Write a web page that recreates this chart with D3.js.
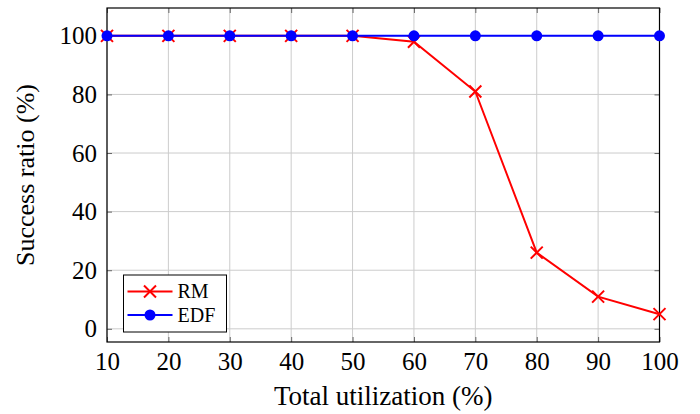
<!DOCTYPE html>
<html>
<head>
<meta charset="utf-8">
<script src="https://cdn.jsdelivr.net/npm/d3@7"></script>
</head>
<body style="margin:0;background:#fff">
<svg id="chart" width="700" height="414"></svg>
<script>
// data
utilization = [10, 20, 30, 40, 50, 60, 70, 80, 90, 100];
rmValues = [100, 100, 100, 100, 100, 98, 81, 26, 11, 5];
edfValues = [100, 100, 100, 100, 100, 100, 100, 100, 100, 100];
yTicks = [0, 20, 40, 60, 80, 100];

let serif = "'Liberation Serif'";

let margin = {left: 107, right: 40.5, top: 8, bottom: 72};
let width = 700 - margin.left - margin.right;
let height = 414 - margin.top - margin.bottom;

let svg = d3.select("#chart");
let g = svg.append("g").attr("transform", "translate(" + margin.left + "," + margin.top + ")");

let x = d3.scaleLinear().domain([10, 100]).range([0, width]);
let y = d3.scaleLinear().domain([-4.5, 109.5]).range([height, 0]);

// grid
g.append("g").selectAll("line")
    .data(utilization).enter()
    .append("line")
    .attr("x1", d => x(d)).attr("x2", d => x(d))
    .attr("y1", 0).attr("y2", height)
    .style("stroke", "#cccccc").style("stroke-width", 1);
g.append("g").selectAll("line")
    .data(yTicks).enter()
    .append("line")
    .attr("x1", 0).attr("x2", width)
    .attr("y1", d => y(d)).attr("y2", d => y(d))
    .style("stroke", "#cccccc").style("stroke-width", 1);

// axes, ticks inside on all four sides
function styleAxis(sel) {
    sel.attr("font-family", null).attr("font-size", null);
    sel.select(".domain").remove();
    sel.selectAll(".tick line").style("stroke", "#666").style("stroke-width", 1);
    sel.selectAll(".tick text")
        .style("font-family", serif)
        .attr("font-size", 25)
        .style("fill", "#000");
}
g.append("g").attr("transform", "translate(0," + height + ")")
    .call(d3.axisBottom(x).tickValues(utilization).tickSizeInner(-5).tickSizeOuter(0).tickPadding(10))
    .call(styleAxis);
g.append("g").call(d3.axisTop(x).tickValues(utilization).tickSizeInner(-5).tickSizeOuter(0).tickFormat(""))
    .call(styleAxis);
g.append("g")
    .call(d3.axisLeft(y).tickValues(yTicks).tickSizeInner(-5).tickSizeOuter(0).tickPadding(10))
    .call(styleAxis);
g.append("g").attr("transform", "translate(" + width + ",0)")
    .call(d3.axisRight(y).tickValues(yTicks).tickSizeInner(-5).tickSizeOuter(0).tickFormat(""))
    .call(styleAxis);

g.append("rect")
    .attr("width", width).attr("height", height)
    .style("fill", "none").style("stroke", "#000").style("stroke-width", 1.2);

// series
let line = d3.line().x(d => x(d[0])).y(d => y(d[1]));
let rmData = d3.zip(utilization, rmValues);
let edfData = d3.zip(utilization, edfValues);

let crossPath = "M-6,-6L6,6M-6,6L6,-6";

g.append("path").datum(rmData).attr("d", line)
    .style("fill", "none").style("stroke", "#ff0000").style("stroke-width", 2);
g.append("g").selectAll("path")
    .data(rmData).enter()
    .append("path")
    .attr("d", crossPath)
    .attr("transform", d => "translate(" + x(d[0]) + "," + y(d[1]) + ")")
    .style("stroke", "#ff0000").style("stroke-width", 2).style("fill", "none");

g.append("path").datum(edfData).attr("d", line)
    .style("fill", "none").style("stroke", "#0000ff").style("stroke-width", 2);
g.append("g").selectAll("circle")
    .data(edfData).enter()
    .append("circle")
    .attr("cx", d => x(d[0])).attr("cy", d => y(d[1]))
    .attr("r", 5.5)
    .style("fill", "#0000ff");

// axis labels
svg.append("text")
    .attr("x", margin.left + width / 2).attr("y", 405)
    .attr("text-anchor", "middle")
    .style("font-family", serif).attr("font-size", 27)
    .text("Total utilization (%)");
svg.append("text")
    .attr("transform", "translate(34," + (margin.top + height / 2) + ") rotate(-90)")
    .attr("text-anchor", "middle")
    .style("font-family", serif).attr("font-size", 26)
    .text("Success ratio (%)");

// legend
let legend = svg.append("g").attr("transform", "translate(123.5,275)");
legend.append("rect")
    .attr("width", 103).attr("height", 57)
    .style("fill", "#fff").style("stroke", "#000").style("stroke-width", 1);
let items = [{name: "RM", color: "#ff0000"}, {name: "EDF", color: "#0000ff"}];
items.forEach(function(it, i) {
    let cy = 16.5 + i * 23.5;
    legend.append("line")
        .attr("x1", 4).attr("x2", 49).attr("y1", cy).attr("y2", cy)
        .style("stroke", it.color).style("stroke-width", 2);
    if (i == 0) {
        legend.append("path").attr("d", crossPath)
            .attr("transform", "translate(26.5," + cy + ")")
            .style("stroke", it.color).style("stroke-width", 2);
    } else {
        legend.append("circle").attr("cx", 26.5).attr("cy", cy).attr("r", 5.5)
            .style("fill", it.color);
    }
    legend.append("text")
        .attr("x", 54).attr("y", cy + 6.5)
        .style("font-family", serif).attr("font-size", 20)
        .text(it.name);
});
</script>
</body>
</html>
